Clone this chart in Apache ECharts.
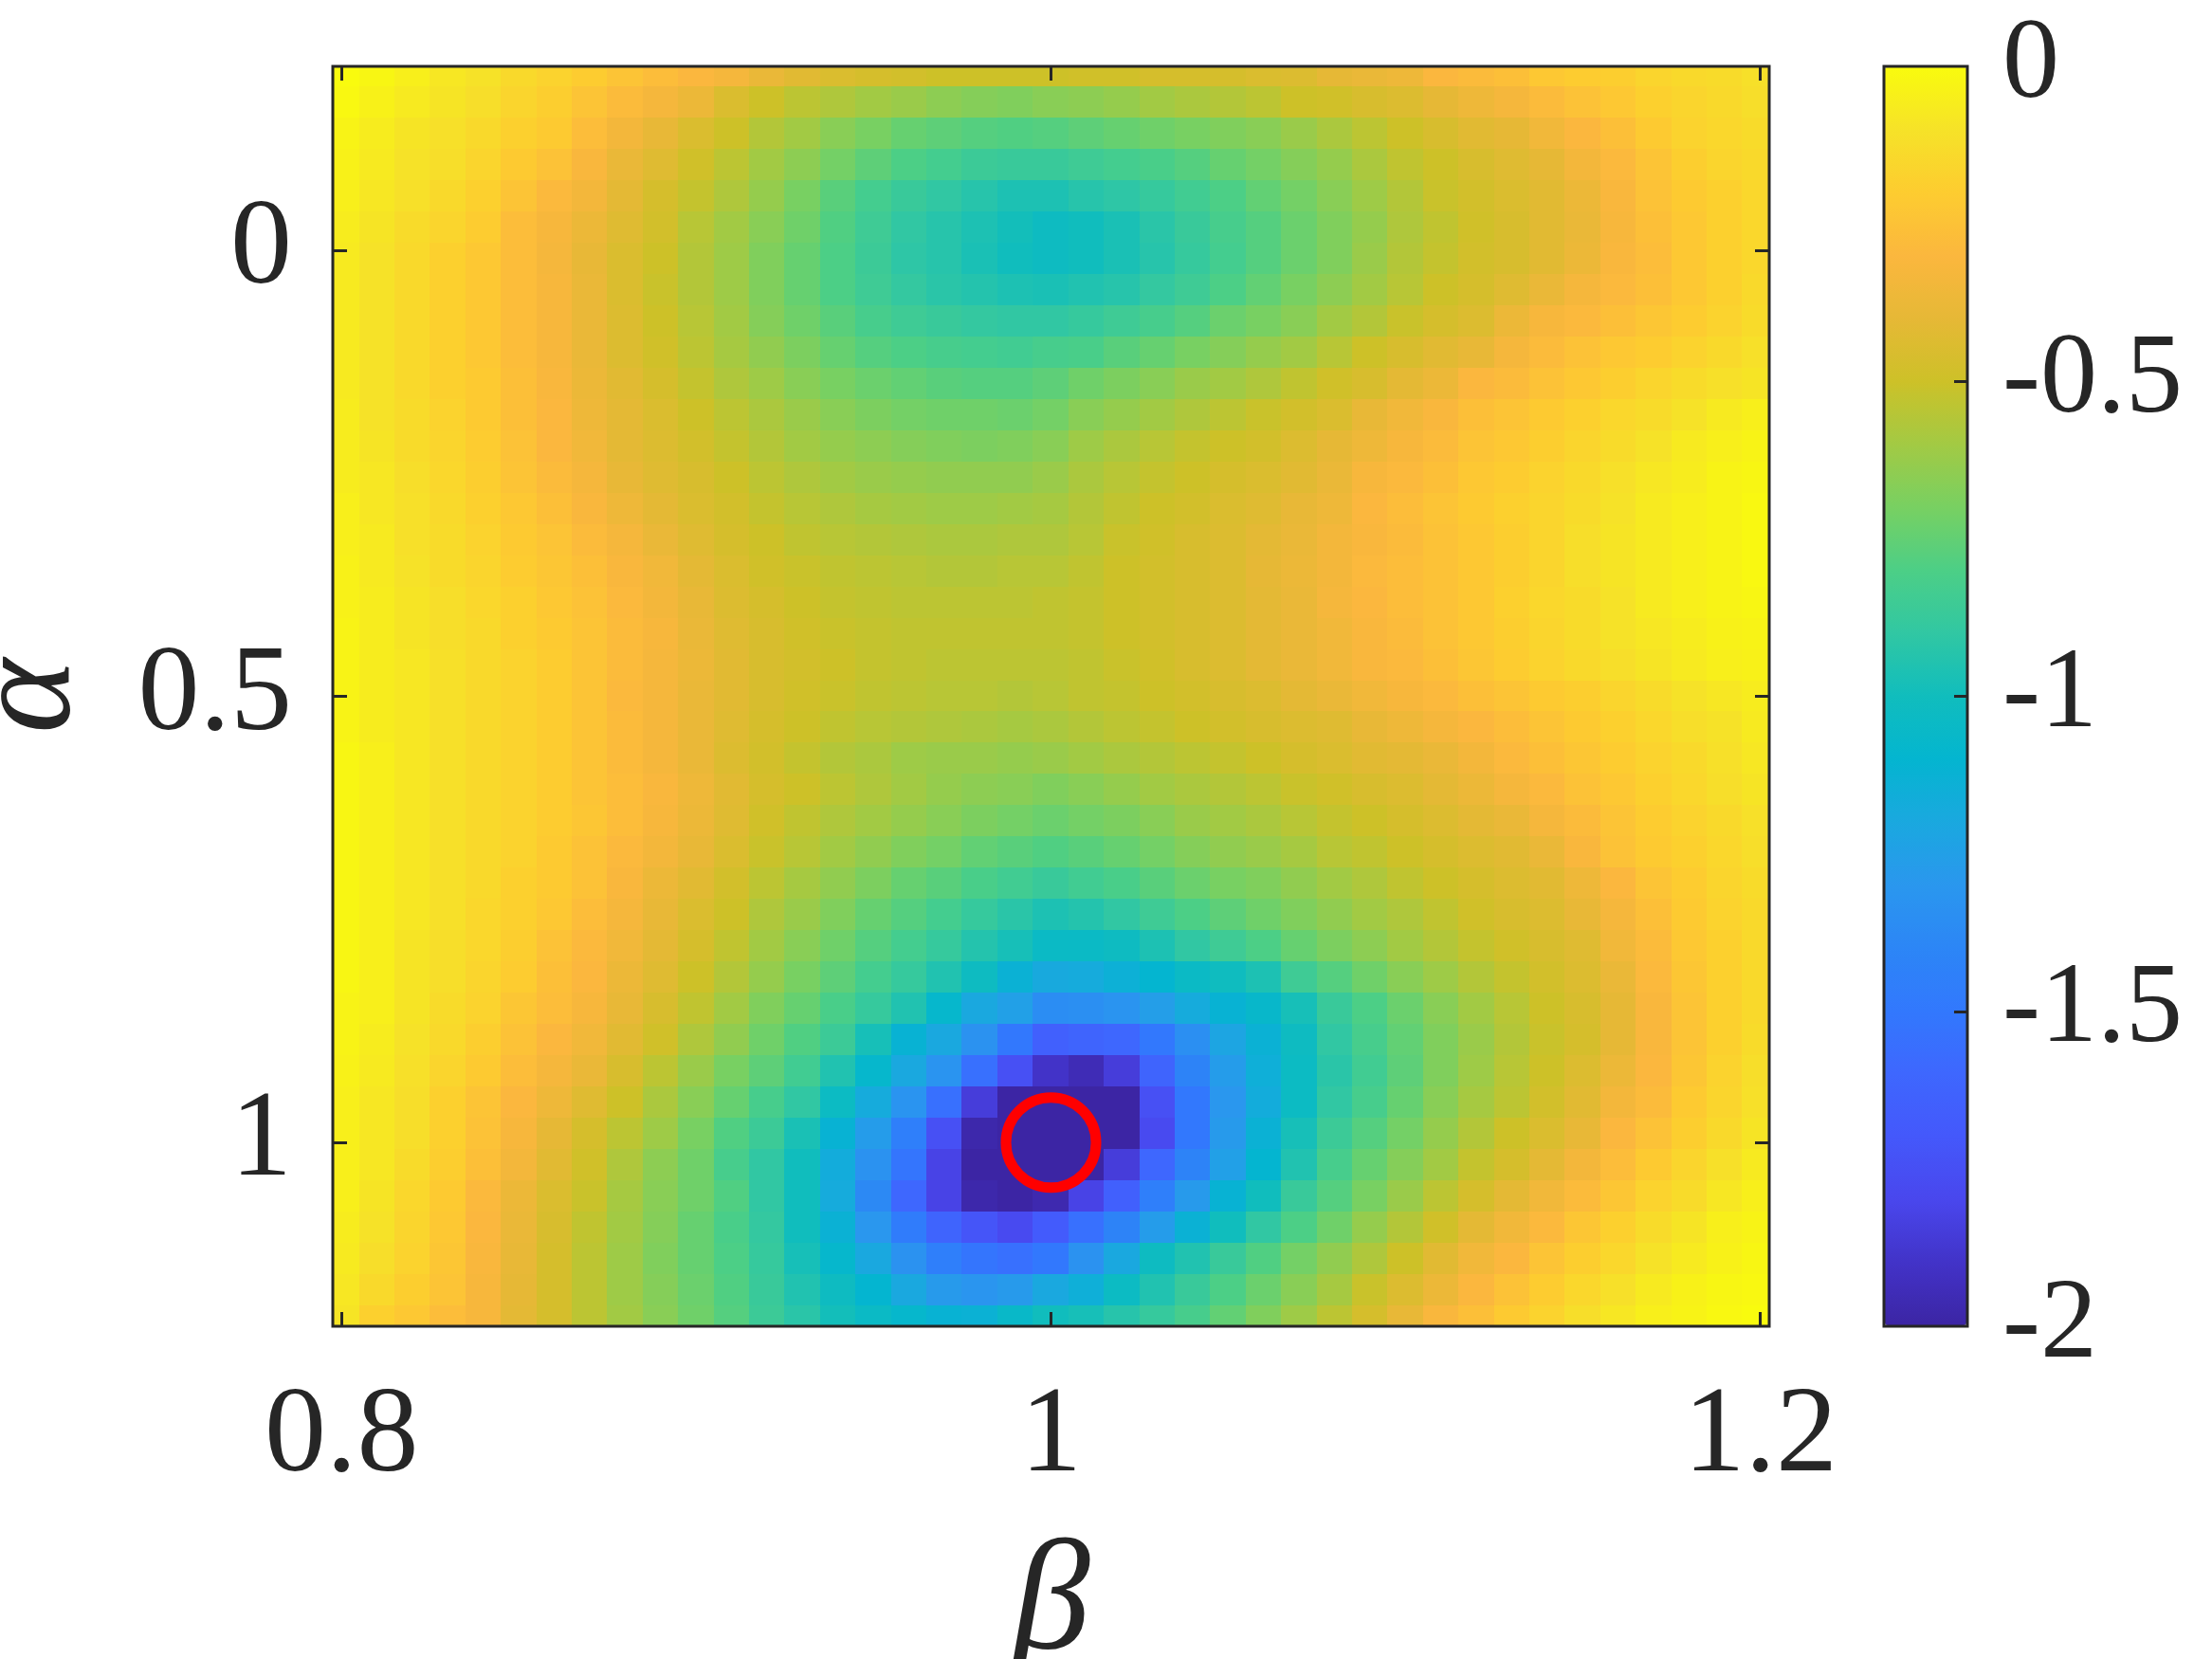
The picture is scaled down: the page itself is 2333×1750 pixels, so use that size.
<!DOCTYPE html>
<html>
<head>
<meta charset="utf-8">
<style>
  html, body { margin: 0; background: #fff; }
  #chart { width: 2333px; height: 1750px; }
</style>
<script src="https://cdn.jsdelivr.net/npm/echarts@6/dist/echarts.min.js"></script>
</head>
<body>
<div id="chart"></div>
<script>
const betaValues = [.8,.81,.82,.83,.84,.85,.86,.87,.88,.89,.9,.91,.92,.93,.94,.95,.96,.97,.98,.99,1,1.01,1.02,1.03,1.04,1.05,1.06,1.07,1.08,1.09,1.1,1.11,1.12,1.13,1.14,1.15,1.16,1.17,1.18,1.19,1.2];
const alphaValues = [-.2,-.165,-.13,-.095,-.06,-.025,.01,.045,.08,.115,.15,.185,.22,.255,.29,.325,.36,.395,.43,.465,.5,.535,.57,.605,.64,.675,.71,.745,.78,.815,.85,.885,.92,.955,.99,1.025,1.06,1.095,1.13,1.165,1.2];
const betaTicks = [.8, 1, 1.2];
const alphaTicks = [0, .5, 1];
const barLabels = [0, -.5, -1, -1.5, -2];
const barTicks = [-.5, -1, -1.5];
const markedPoint = [1, 1];

// one row per alpha, one column per beta
const surfaceRows = [
[0,-.02,-.05,-.08,-.1,-.14,-.17,-.2,-.24,-.27,-.3,-.33,-.38,-.42,-.45,-.47,-.48,-.5,-.5,-.5,-.5,-.49,-.49,-.47,-.47,-.47,-.45,-.44,-.4,-.38,-.36,-.3,-.28,-.26,-.22,-.2,-.19,-.16,-.14,-.13,-.11],
[-.01,-.04,-.07,-.09,-.12,-.16,-.19,-.24,-.28,-.33,-.37,-.45,-.5,-.54,-.57,-.6,-.62,-.65,-.67,-.68,-.66,-.65,-.63,-.6,-.58,-.56,-.54,-.5,-.49,-.46,-.44,-.4,-.36,-.33,-.28,-.25,-.22,-.18,-.16,-.14,-.12],
[-.03,-.06,-.09,-.11,-.14,-.18,-.21,-.27,-.34,-.39,-.45,-.5,-.56,-.6,-.66,-.7,-.74,-.76,-.78,-.79,-.78,-.76,-.74,-.72,-.7,-.68,-.66,-.62,-.58,-.54,-.5,-.46,-.42,-.4,-.35,-.3,-.26,-.21,-.17,-.15,-.13],
[-.04,-.07,-.1,-.12,-.16,-.21,-.25,-.31,-.38,-.43,-.49,-.54,-.6,-.65,-.71,-.76,-.8,-.83,-.86,-.87,-.87,-.85,-.83,-.81,-.78,-.74,-.71,-.67,-.63,-.58,-.53,-.5,-.46,-.43,-.4,-.34,-.29,-.24,-.19,-.16,-.14],
[-.05,-.08,-.11,-.14,-.18,-.24,-.29,-.34,-.41,-.47,-.52,-.57,-.63,-.7,-.77,-.83,-.87,-.9,-.93,-.96,-.96,-.93,-.91,-.88,-.84,-.8,-.75,-.71,-.66,-.61,-.56,-.51,-.48,-.45,-.42,-.37,-.31,-.25,-.21,-.18,-.15],
[-.06,-.09,-.13,-.16,-.2,-.27,-.32,-.37,-.43,-.48,-.55,-.6,-.66,-.72,-.79,-.85,-.9,-.93,-.96,-.99,-1.02,-1,-.97,-.92,-.87,-.82,-.78,-.73,-.68,-.63,-.57,-.53,-.49,-.46,-.42,-.38,-.32,-.26,-.22,-.18,-.15],
[-.07,-.1,-.14,-.18,-.22,-.27,-.33,-.39,-.45,-.5,-.56,-.61,-.68,-.74,-.8,-.86,-.91,-.93,-.97,-1,-1.02,-1,-.97,-.93,-.88,-.83,-.78,-.73,-.68,-.62,-.56,-.52,-.48,-.46,-.42,-.37,-.31,-.27,-.22,-.18,-.15],
[-.07,-.1,-.14,-.18,-.22,-.27,-.32,-.38,-.45,-.51,-.56,-.61,-.68,-.74,-.8,-.85,-.89,-.92,-.94,-.96,-.97,-.95,-.93,-.89,-.85,-.8,-.75,-.7,-.65,-.6,-.55,-.5,-.47,-.43,-.38,-.33,-.29,-.26,-.22,-.18,-.14],
[-.07,-.1,-.14,-.18,-.22,-.27,-.32,-.38,-.44,-.5,-.55,-.6,-.67,-.72,-.77,-.82,-.85,-.87,-.89,-.9,-.9,-.88,-.85,-.82,-.78,-.73,-.7,-.66,-.6,-.56,-.51,-.47,-.44,-.37,-.32,-.29,-.26,-.23,-.2,-.17,-.13],
[-.07,-.1,-.14,-.18,-.22,-.27,-.32,-.38,-.44,-.49,-.54,-.59,-.64,-.69,-.74,-.78,-.8,-.82,-.83,-.84,-.82,-.81,-.77,-.74,-.7,-.67,-.63,-.6,-.55,-.5,-.46,-.42,-.39,-.33,-.28,-.25,-.22,-.2,-.17,-.14,-.11],
[-.07,-.1,-.14,-.18,-.21,-.26,-.31,-.37,-.42,-.47,-.52,-.57,-.61,-.66,-.7,-.73,-.75,-.77,-.78,-.78,-.76,-.72,-.69,-.66,-.62,-.6,-.57,-.53,-.49,-.46,-.41,-.37,-.3,-.28,-.25,-.22,-.19,-.16,-.13,-.11,-.09],
[-.06,-.1,-.13,-.17,-.21,-.26,-.3,-.36,-.41,-.45,-.5,-.54,-.58,-.62,-.66,-.69,-.71,-.72,-.72,-.73,-.71,-.66,-.63,-.6,-.57,-.54,-.51,-.48,-.45,-.39,-.35,-.31,-.26,-.24,-.21,-.18,-.15,-.13,-.1,-.07,-.05],
[-.06,-.09,-.13,-.16,-.2,-.25,-.3,-.35,-.41,-.44,-.48,-.52,-.56,-.6,-.63,-.65,-.67,-.68,-.69,-.68,-.66,-.61,-.58,-.55,-.52,-.5,-.48,-.44,-.4,-.36,-.32,-.28,-.24,-.22,-.19,-.16,-.13,-.1,-.07,-.05,-.03],
[-.06,-.08,-.12,-.15,-.19,-.24,-.28,-.33,-.39,-.43,-.46,-.5,-.54,-.57,-.6,-.62,-.63,-.64,-.64,-.64,-.62,-.58,-.55,-.52,-.5,-.47,-.45,-.42,-.38,-.32,-.29,-.26,-.22,-.2,-.17,-.14,-.11,-.08,-.06,-.03,-.02],
[-.05,-.08,-.11,-.14,-.18,-.22,-.26,-.31,-.36,-.41,-.45,-.48,-.52,-.55,-.57,-.59,-.6,-.61,-.61,-.6,-.59,-.56,-.53,-.5,-.48,-.45,-.43,-.39,-.36,-.3,-.27,-.24,-.21,-.18,-.16,-.13,-.1,-.07,-.05,-.03,-.01],
[-.05,-.07,-.11,-.13,-.17,-.21,-.24,-.28,-.33,-.38,-.43,-.47,-.5,-.53,-.55,-.56,-.57,-.58,-.58,-.57,-.57,-.55,-.51,-.49,-.46,-.44,-.41,-.38,-.34,-.31,-.28,-.25,-.22,-.19,-.16,-.12,-.09,-.07,-.05,-.03,-.01],
[-.04,-.07,-.1,-.13,-.16,-.2,-.23,-.26,-.31,-.35,-.41,-.45,-.49,-.51,-.53,-.54,-.55,-.56,-.56,-.55,-.55,-.53,-.5,-.48,-.46,-.44,-.4,-.37,-.34,-.29,-.27,-.25,-.22,-.19,-.16,-.12,-.09,-.07,-.05,-.03,-.01],
[-.04,-.06,-.09,-.12,-.15,-.18,-.22,-.25,-.29,-.34,-.39,-.44,-.47,-.5,-.52,-.53,-.54,-.54,-.54,-.54,-.53,-.52,-.5,-.48,-.46,-.44,-.41,-.38,-.33,-.3,-.27,-.25,-.22,-.18,-.15,-.13,-.1,-.07,-.05,-.03,-.02],
[-.03,-.06,-.09,-.12,-.14,-.18,-.21,-.24,-.28,-.32,-.38,-.43,-.46,-.49,-.51,-.52,-.53,-.53,-.53,-.53,-.53,-.52,-.5,-.48,-.46,-.44,-.41,-.38,-.35,-.31,-.28,-.25,-.22,-.19,-.16,-.13,-.1,-.08,-.06,-.04,-.03],
[-.03,-.06,-.08,-.11,-.14,-.17,-.2,-.24,-.28,-.33,-.37,-.42,-.46,-.48,-.5,-.52,-.53,-.54,-.54,-.54,-.54,-.53,-.51,-.49,-.46,-.44,-.41,-.38,-.35,-.31,-.29,-.26,-.23,-.2,-.17,-.14,-.12,-.09,-.07,-.05,-.04],
[-.03,-.06,-.08,-.11,-.14,-.17,-.2,-.24,-.29,-.33,-.38,-.42,-.46,-.49,-.51,-.53,-.54,-.55,-.55,-.56,-.55,-.53,-.52,-.5,-.48,-.46,-.44,-.41,-.38,-.35,-.32,-.29,-.26,-.24,-.21,-.19,-.16,-.13,-.1,-.08,-.06],
[-.03,-.06,-.08,-.11,-.14,-.17,-.2,-.24,-.28,-.33,-.38,-.43,-.47,-.5,-.53,-.55,-.56,-.57,-.58,-.59,-.58,-.56,-.54,-.52,-.5,-.48,-.46,-.44,-.43,-.39,-.36,-.33,-.3,-.27,-.24,-.21,-.18,-.15,-.12,-.1,-.07],
[-.02,-.05,-.08,-.11,-.14,-.17,-.2,-.24,-.28,-.33,-.38,-.44,-.48,-.52,-.56,-.58,-.61,-.62,-.62,-.63,-.62,-.6,-.58,-.56,-.54,-.52,-.5,-.47,-.45,-.42,-.41,-.38,-.34,-.29,-.26,-.23,-.2,-.17,-.14,-.11,-.08],
[-.02,-.05,-.08,-.11,-.14,-.17,-.2,-.24,-.27,-.31,-.36,-.42,-.47,-.5,-.54,-.57,-.6,-.63,-.65,-.66,-.68,-.66,-.63,-.6,-.58,-.56,-.54,-.51,-.49,-.46,-.44,-.41,-.37,-.33,-.29,-.25,-.22,-.18,-.15,-.12,-.09],
[-.02,-.05,-.08,-.11,-.14,-.17,-.2,-.23,-.27,-.32,-.37,-.43,-.49,-.53,-.57,-.6,-.63,-.66,-.69,-.71,-.73,-.71,-.69,-.66,-.62,-.6,-.58,-.55,-.52,-.5,-.47,-.44,-.41,-.38,-.33,-.28,-.24,-.2,-.17,-.14,-.11],
[-.02,-.05,-.08,-.11,-.14,-.17,-.21,-.25,-.29,-.34,-.39,-.45,-.51,-.55,-.6,-.64,-.68,-.71,-.75,-.77,-.79,-.77,-.74,-.71,-.67,-.64,-.62,-.59,-.55,-.53,-.5,-.47,-.44,-.42,-.38,-.31,-.25,-.21,-.18,-.15,-.12],
[-.02,-.05,-.08,-.11,-.14,-.18,-.21,-.25,-.31,-.37,-.42,-.48,-.54,-.59,-.64,-.69,-.74,-.77,-.81,-.84,-.87,-.84,-.81,-.77,-.73,-.7,-.68,-.64,-.6,-.57,-.53,-.5,-.47,-.44,-.42,-.36,-.3,-.24,-.2,-.16,-.13],
[-.02,-.05,-.08,-.11,-.15,-.18,-.22,-.27,-.33,-.39,-.45,-.5,-.57,-.62,-.68,-.74,-.78,-.83,-.88,-.92,-.96,-.94,-.9,-.85,-.8,-.76,-.72,-.68,-.64,-.6,-.57,-.53,-.49,-.46,-.44,-.39,-.33,-.26,-.21,-.17,-.14],
[-.02,-.05,-.09,-.12,-.15,-.19,-.25,-.29,-.35,-.41,-.47,-.53,-.6,-.66,-.72,-.78,-.83,-.88,-.94,-.98,-1.04,-1.04,-1.02,-.96,-.9,-.85,-.8,-.74,-.69,-.65,-.6,-.56,-.52,-.49,-.46,-.43,-.35,-.28,-.22,-.18,-.14],
[-.02,-.05,-.09,-.12,-.16,-.2,-.26,-.3,-.37,-.43,-.5,-.56,-.63,-.7,-.76,-.83,-.88,-.95,-1.02,-1.13,-1.19,-1.18,-1.14,-1.1,-1.04,-1.01,-.96,-.85,-.78,-.72,-.66,-.61,-.56,-.52,-.48,-.44,-.38,-.29,-.23,-.18,-.14],
[-.03,-.05,-.09,-.13,-.17,-.23,-.27,-.32,-.39,-.46,-.53,-.6,-.68,-.74,-.81,-.88,-.95,-1.08,-1.2,-1.25,-1.36,-1.35,-1.32,-1.26,-1.18,-1.12,-1.07,-.98,-.87,-.8,-.73,-.66,-.6,-.55,-.5,-.46,-.4,-.31,-.24,-.18,-.14],
[-.03,-.06,-.1,-.14,-.19,-.25,-.3,-.35,-.42,-.49,-.57,-.64,-.72,-.79,-.86,-.98,-1.12,-1.2,-1.33,-1.5,-1.65,-1.62,-1.6,-1.5,-1.35,-1.22,-1.13,-1.02,-.9,-.82,-.75,-.68,-.62,-.56,-.51,-.47,-.4,-.31,-.24,-.18,-.13],
[-.04,-.07,-.11,-.16,-.21,-.27,-.33,-.38,-.46,-.54,-.62,-.7,-.76,-.84,-.95,-1.08,-1.2,-1.32,-1.55,-1.75,-1.9,-1.95,-1.85,-1.62,-1.42,-1.27,-1.15,-1.03,-.92,-.84,-.76,-.68,-.61,-.55,-.5,-.44,-.37,-.3,-.23,-.17,-.12],
[-.05,-.08,-.12,-.18,-.24,-.3,-.36,-.43,-.5,-.58,-.66,-.74,-.82,-.9,-1.03,-1.18,-1.32,-1.55,-1.85,-2,-2,-2,-2,-1.75,-1.5,-1.3,-1.17,-1.03,-.9,-.82,-.74,-.66,-.59,-.54,-.48,-.42,-.34,-.28,-.21,-.16,-.11],
[-.05,-.08,-.12,-.18,-.25,-.32,-.4,-.47,-.54,-.61,-.7,-.79,-.86,-.97,-1.12,-1.27,-1.45,-1.75,-1.98,-2,-2,-2,-2,-1.78,-1.5,-1.28,-1.13,-.98,-.86,-.78,-.71,-.63,-.56,-.5,-.45,-.39,-.3,-.25,-.19,-.14,-.09],
[-.05,-.08,-.13,-.19,-.26,-.34,-.42,-.49,-.57,-.65,-.72,-.82,-.9,-1,-1.17,-1.33,-1.52,-1.82,-2,-2,-2,-2,-1.85,-1.6,-1.42,-1.25,-1.1,-.95,-.82,-.74,-.67,-.6,-.52,-.47,-.41,-.34,-.27,-.21,-.16,-.11,-.07],
[-.05,-.09,-.15,-.21,-.29,-.37,-.45,-.51,-.59,-.66,-.72,-.79,-.9,-1,-1.18,-1.38,-1.6,-1.82,-1.98,-2,-1.97,-1.82,-1.65,-1.45,-1.28,-1.12,-1,-.87,-.78,-.7,-.62,-.54,-.47,-.41,-.35,-.28,-.23,-.17,-.13,-.08,-.05],
[-.06,-.1,-.16,-.22,-.3,-.38,-.46,-.53,-.6,-.67,-.74,-.81,-.89,-1,-1.13,-1.3,-1.47,-1.62,-1.72,-1.78,-1.68,-1.55,-1.42,-1.27,-1.13,-1,-.9,-.8,-.72,-.63,-.56,-.49,-.41,-.35,-.29,-.23,-.18,-.13,-.09,-.05,-.03],
[-.07,-.12,-.17,-.23,-.31,-.39,-.47,-.54,-.61,-.68,-.74,-.8,-.88,-.98,-1.08,-1.2,-1.33,-1.45,-1.52,-1.55,-1.5,-1.33,-1.2,-1.02,-.95,-.87,-.79,-.71,-.64,-.57,-.5,-.42,-.35,-.3,-.24,-.19,-.15,-.1,-.07,-.04,-.02],
[-.08,-.14,-.19,-.24,-.32,-.4,-.47,-.54,-.61,-.67,-.73,-.79,-.87,-.95,-1.02,-1.1,-1.2,-1.28,-1.31,-1.28,-1.2,-1.15,-1.03,-.95,-.87,-.8,-.73,-.66,-.59,-.51,-.44,-.37,-.3,-.25,-.2,-.15,-.11,-.07,-.04,-.02,-.01],
[-.09,-.18,-.22,-.27,-.32,-.41,-.47,-.54,-.6,-.66,-.72,-.78,-.86,-.92,-.99,-1.04,-1.08,-1.12,-1.13,-1.06,-1,-.98,-.93,-.88,-.82,-.75,-.68,-.61,-.54,-.47,-.39,-.31,-.26,-.21,-.17,-.12,-.08,-.05,-.03,-.01,0]
];

// colourbar stops, bottom to top
const barColors = ['#3c25a4','#4233c8','#4947ed','#4458fb','#3e67fe','#3278fd','#2c86f6','#2a97ee','#1aa8df','#04b5d0','#10bdbd','#31c7a3','#4ccf86','#78d062','#a2ca44','#cdc128','#e6b836','#fbb73e','#fdcc30','#f6e228','#f9fb0e'];

const cells = [];
alphaValues.forEach((alpha, r) => {
  betaValues.forEach((beta, c) => {
    cells.push([beta, alpha, surfaceRows[r][c]]);
  });
});

const halfBeta = .005;
const halfAlpha = .0175;
const ink = '#262626';
const serif = '"Liberation Serif", serif';

function renderCell(params, api) {
  const p0 = api.coord([api.value(0) - halfBeta, api.value(1) - halfAlpha]);
  const p1 = api.coord([api.value(0) + halfBeta, api.value(1) + halfAlpha]);
  const rect = echarts.graphic.clipRectByRect({
    x: Math.floor(p0[0]),
    y: Math.floor(p0[1]),
    width: Math.ceil(p1[0] - p0[0]) + 1,
    height: Math.ceil(p1[1] - p0[1]) + 1
  }, params.coordSys);
  return rect && {type: 'rect', shape: rect, style: {fill: api.visual('color')}};
}

const noLine = {show: false, onZero: false};
const tickStyle = {color: ink, width: 3};

const chart = echarts.init(document.getElementById('chart'));
chart.setOption({
  animation: false,
  backgroundColor: '#fff',
  grid: [
    {left: 351, top: 70, width: 1515, height: 1329, outerBoundsMode: 'none', show: true, z: 10, backgroundColor: 'transparent', borderColor: ink, borderWidth: 3},
    {left: 1987, top: 70, width: 88, height: 1329, outerBoundsMode: 'none', show: true, z: 10, backgroundColor: 'transparent', borderColor: ink, borderWidth: 3}
  ],
  xAxis: [
    {
      type: 'value', gridIndex: 0, min: .7975, max: 1.2025, position: 'bottom', z: 10,
      splitLine: {show: false},
      axisLine: noLine,
      axisTick: {show: true, inside: true, length: 15, lineStyle: tickStyle, customValues: betaTicks},
      axisLabel: {customValues: betaTicks, margin: 53, color: ink, fontSize: 130, fontFamily: serif, formatter: v => String(v)},
      name: 'β', nameLocation: 'middle', nameGap: 213,
      nameTextStyle: {color: ink, fontSize: 165, fontStyle: 'italic', fontFamily: serif}
    },
    {
      type: 'value', gridIndex: 0, min: .7975, max: 1.2025, position: 'top', z: 10,
      splitLine: {show: false},
      axisLine: noLine,
      axisTick: {show: true, inside: true, length: 15, lineStyle: tickStyle, customValues: betaTicks},
      axisLabel: {show: false}
    },
    {type: 'value', gridIndex: 1, min: 0, max: 1, show: false}
  ],
  yAxis: [
    {
      type: 'value', gridIndex: 0, min: -.2058, max: 1.2058, inverse: true, position: 'left', z: 10,
      splitLine: {show: false},
      axisLine: noLine,
      axisTick: {show: true, inside: true, length: 15, lineStyle: tickStyle, customValues: alphaTicks},
      axisLabel: {customValues: alphaTicks, margin: 43, color: ink, fontSize: 130, fontFamily: serif, formatter: v => String(v)},
      name: 'α', nameLocation: 'middle', nameGap: 242,
      nameTextStyle: {color: ink, fontSize: 150, fontStyle: 'italic', fontFamily: serif}
    },
    {
      type: 'value', gridIndex: 0, min: -.2058, max: 1.2058, inverse: true, position: 'right', z: 10,
      splitLine: {show: false},
      axisLine: noLine,
      axisTick: {show: true, inside: true, length: 15, lineStyle: tickStyle, customValues: alphaTicks},
      axisLabel: {show: false}
    },
    {
      type: 'value', gridIndex: 1, min: -2, max: 0, position: 'right', z: 10,
      splitLine: {show: false},
      axisLine: noLine,
      axisTick: {show: true, inside: true, length: 14, lineStyle: tickStyle, customValues: barTicks},
      axisLabel: {customValues: barLabels, margin: 37, color: ink, fontSize: 120, fontFamily: serif, formatter: v => String(v)}
    }
  ],
  visualMap: {
    type: 'continuous', seriesIndex: 0, dimension: 2, min: -2, max: 0,
    left: 1988, top: 71, itemWidth: 86, itemHeight: 1327, padding: 0,
    calculable: false, text: null, showLabel: false,
    inRange: {color: barColors}
  },
  series: [
    {
      type: 'custom', xAxisIndex: 0, yAxisIndex: 0,
      renderItem: renderCell, data: cells,
      encode: {x: 0, y: 1}, silent: true
    },
    {
      type: 'scatter', xAxisIndex: 0, yAxisIndex: 0,
      data: [markedPoint], symbol: 'circle', symbolSize: 95, z: 5, silent: true,
      itemStyle: {color: 'transparent', borderColor: '#ff0000', borderWidth: 11, opacity: 1}
    }
  ]
});
</script>
</body>
</html>
